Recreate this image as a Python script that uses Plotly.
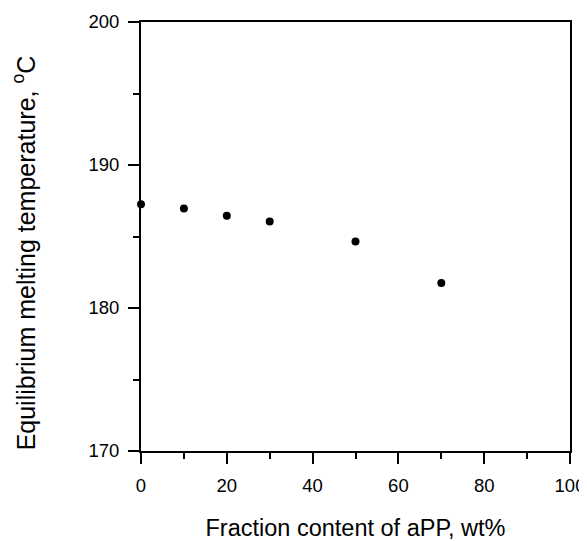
import plotly.graph_objects as go

apP_content = [0, 10, 20, 30, 50, 70]
melting_temp = [187.25, 186.95, 186.45, 186.05, 184.65, 181.75]

x_tickvals = [0, 20, 40, 60, 80, 100]
y_tickvals = [170, 180, 190, 200]

fig = go.Figure()
fig.add_trace(go.Scatter(
    x=apP_content, y=melting_temp, mode="markers",
    marker=dict(color="black", size=8),
    cliponaxis=False, showlegend=False,
))

font = "Liberation Sans, Arial, sans-serif"
axis_common = dict(
    showline=True, linecolor="black", linewidth=2, mirror=True,
    ticks="outside", ticklen=11, tickwidth=2, tickcolor="black",
    showgrid=False, zeroline=False,
    tickfont=dict(family=font, size=18.5, color="black"),
)

fig.update_xaxes(
    range=[0, 100], tickvals=x_tickvals,
    minor=dict(dtick=10, ticks="outside", ticklen=6, tickwidth=2, tickcolor="black", showgrid=False),
    title=dict(text="Fraction content of aPP, wt%", font=dict(family=font, size=23.5, color="black"), standoff=26),
    ticklabelstandoff=6,
    **axis_common,
)
fig.update_yaxes(
    range=[170, 200], tickvals=y_tickvals,
    minor=dict(dtick=5, ticks="outside", ticklen=6, tickwidth=2, tickcolor="black", showgrid=False),
    ticklabelstandoff=5,
    **axis_common,
)

fig.add_annotation(
    text="Equilibrium melting temperature, <sup>o</sup>C",
    xref="paper", yref="paper", x=-0.272, y=0.4614,
    xanchor="center", yanchor="middle", textangle=-90, showarrow=False,
    font=dict(family=font, size=25, color="black"),
)

fig.update_layout(
    width=579, height=533,
    margin=dict(l=133, r=17, t=14, b=90, autoexpand=False),
    plot_bgcolor="white", paper_bgcolor="white",
    font=dict(family=font, color="black"),
)

fig.write_html("out.html")
